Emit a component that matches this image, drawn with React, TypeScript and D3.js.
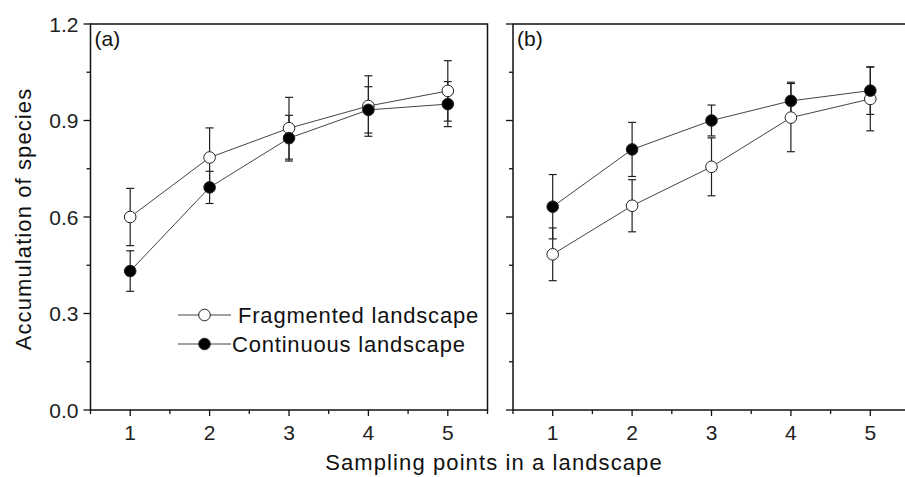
import React, { useEffect, useRef } from "react";
import * as d3 from "d3";

// sampling points and values
const samplingPoints = [1, 2, 3, 4, 5];
const fragmentedA = [0.6, 0.785, 0.876, 0.945, 0.992];
const fragmentedAErr = [0.089, 0.092, 0.096, 0.094, 0.094];
const continuousA = [0.432, 0.692, 0.845, 0.933, 0.951];
const continuousAErr = [0.063, 0.05, 0.071, 0.072, 0.07];
const fragmentedB = [0.484, 0.635, 0.756, 0.909, 0.967];
const fragmentedBErr = [0.082, 0.081, 0.09, 0.106, 0.099];
const continuousB = [0.632, 0.81, 0.9, 0.961, 0.993];
const continuousBErr = [0.1, 0.084, 0.048, 0.058, 0.074];
const yTicks = [0, 0.3, 0.6, 0.9, 1.2];
const yMinorTicks = [0.15, 0.45, 0.75, 1.05];
const xMinorTicks = [0.5, 1.5, 2.5, 3.5, 4.5, 5.5];
const panelLabels = ["(a)", "(b)"];
const seriesNames = ["Fragmented landscape", "Continuous landscape"];

const FONT = "Arial, 'Liberation Sans', sans-serif";

const App = () => {
  const ref = useRef(null);

  useEffect(() => {
    const svg = d3.select(ref.current);
    svg.selectAll("*").remove();

    const top = 24,
      bottom = 410,
      panelWidth = 397;
    const panelLefts = [90.5, 513];

    const y = d3.scaleLinear().domain([0, 1.2]).range([bottom, top]);

    const panels = [
      { frag: fragmentedA, fragErr: fragmentedAErr, cont: continuousA, contErr: continuousAErr },
      { frag: fragmentedB, fragErr: fragmentedBErr, cont: continuousB, contErr: continuousBErr },
    ];

    panels.forEach((p, i) => {
      const left = panelLefts[i];
      const x = d3.scaleLinear().domain([0.5, 5.5]).range([left, left + panelWidth]);
      const g = svg.append("g");

      // frame
      g.append("rect")
        .attr("x", left)
        .attr("y", top)
        .attr("width", panelWidth)
        .attr("height", bottom - top)
        .attr("fill", "none")
        .attr("stroke", "#111")
        .attr("stroke-width", 1.5);

      // y ticks
      g.selectAll(".ymaj")
        .data(yTicks)
        .join("line")
        .attr("x1", left - 7)
        .attr("x2", left)
        .attr("y1", (d) => y(d))
        .attr("y2", (d) => y(d))
        .attr("stroke", "#111")
        .attr("stroke-width", 1.3);
      g.selectAll(".ymin")
        .data(yMinorTicks)
        .join("line")
        .attr("x1", left - 4)
        .attr("x2", left)
        .attr("y1", (d) => y(d))
        .attr("y2", (d) => y(d))
        .attr("stroke", "#111")
        .attr("stroke-width", 1.3);

      if (i === 0) {
        g.selectAll(".ylab")
          .data(yTicks)
          .join("text")
          .attr("x", left - 12)
          .attr("y", (d) => y(d))
          .attr("dy", "0.36em")
          .attr("text-anchor", "end")
          .attr("font-family", FONT)
          .attr("font-size", 21)
          .attr("fill", "#222")
          .text((d) => d.toFixed(1));
      }

      // x ticks
      g.selectAll(".xmaj")
        .data(samplingPoints)
        .join("line")
        .attr("x1", (d) => x(d))
        .attr("x2", (d) => x(d))
        .attr("y1", bottom)
        .attr("y2", bottom + 6)
        .attr("stroke", "#111")
        .attr("stroke-width", 1.3);
      g.selectAll(".xmin")
        .data(xMinorTicks)
        .join("line")
        .attr("x1", (d) => x(d))
        .attr("x2", (d) => x(d))
        .attr("y1", bottom)
        .attr("y2", bottom + 4)
        .attr("stroke", "#111")
        .attr("stroke-width", 1.3);
      g.selectAll(".xlab")
        .data(samplingPoints)
        .join("text")
        .attr("x", (d) => x(d))
        .attr("y", bottom + 30)
        .attr("text-anchor", "middle")
        .attr("font-family", FONT)
        .attr("font-size", 21)
        .attr("fill", "#222")
        .text((d) => d);

      g.append("text")
        .attr("x", left + 4)
        .attr("y", top + 22)
        .attr("font-family", FONT)
        .attr("font-size", 21)
        .attr("fill", "#111")
        .text(panelLabels[i]);

      const series = [
        { vals: p.frag, err: p.fragErr, fill: "#fff" },
        { vals: p.cont, err: p.contErr, fill: "#000" },
      ];
      const line = d3
        .line<number>()
        .x((_, k) => x(samplingPoints[k]))
        .y((d) => y(d));

      series.forEach((s) => {
        g.append("path")
          .attr("d", line(s.vals))
          .attr("fill", "none")
          .attr("stroke", "#444")
          .attr("stroke-width", 1);
      });

      series.forEach((s) => {
        const eb = g.append("g").attr("stroke", "#222").attr("stroke-width", 1.2);
        s.vals.forEach((v, k) => {
          const cx = x(samplingPoints[k]);
          const hi = y(v + s.err[k]);
          const lo = y(v - s.err[k]);
          eb.append("line").attr("x1", cx).attr("x2", cx).attr("y1", hi).attr("y2", lo);
          eb.append("line").attr("x1", cx - 4).attr("x2", cx + 4).attr("y1", hi).attr("y2", hi);
          eb.append("line").attr("x1", cx - 4).attr("x2", cx + 4).attr("y1", lo).attr("y2", lo);
        });
      });

      series.forEach((s) => {
        g.selectAll(null)
          .data(s.vals)
          .join("circle")
          .attr("cx", (_, k) => x(samplingPoints[k]))
          .attr("cy", (d) => y(d))
          .attr("r", 5.8)
          .attr("fill", s.fill)
          .attr("stroke", "#222")
          .attr("stroke-width", 1);
      });
    });

    // legend
    const legend = svg.append("g");
    const legendRows = [
      { name: seriesNames[0], fill: "#fff", cy: 315, tx: 238 },
      { name: seriesNames[1], fill: "#000", cy: 344, tx: 232 },
    ];
    legendRows.forEach((r) => {
      legend
        .append("line")
        .attr("x1", 178)
        .attr("x2", 231)
        .attr("y1", r.cy)
        .attr("y2", r.cy)
        .attr("stroke", "#444")
        .attr("stroke-width", 1);
      legend
        .append("circle")
        .attr("cx", 204.5)
        .attr("cy", r.cy)
        .attr("r", 5.8)
        .attr("fill", r.fill)
        .attr("stroke", "#222")
        .attr("stroke-width", 1);
      legend
        .append("text")
        .attr("x", r.tx)
        .attr("y", r.cy)
        .attr("dy", "0.36em")
        .attr("font-family", FONT)
        .attr("font-size", 22)
        .attr("letter-spacing", 0.8)
        .attr("fill", "#111")
        .text(r.name);
    });

    // axis titles
    svg
      .append("text")
      .attr("x", 494)
      .attr("y", 470)
      .attr("text-anchor", "middle")
      .attr("font-family", FONT)
      .attr("font-size", 22)
      .attr("letter-spacing", 1.1)
      .attr("fill", "#111")
      .text("Sampling points in a landscape");

    svg
      .append("text")
      .attr("transform", "translate(31,219) rotate(-90)")
      .attr("text-anchor", "middle")
      .attr("font-family", FONT)
      .attr("font-size", 22)
      .attr("letter-spacing", 1.1)
      .attr("fill", "#111")
      .text("Accumulation of species");
  }, []);

  return (
    <svg
      ref={ref}
      width={905}
      height={477}
      style={{ position: "absolute", left: 0, top: 0, background: "#fff" }}
    />
  );
};

export default App;
